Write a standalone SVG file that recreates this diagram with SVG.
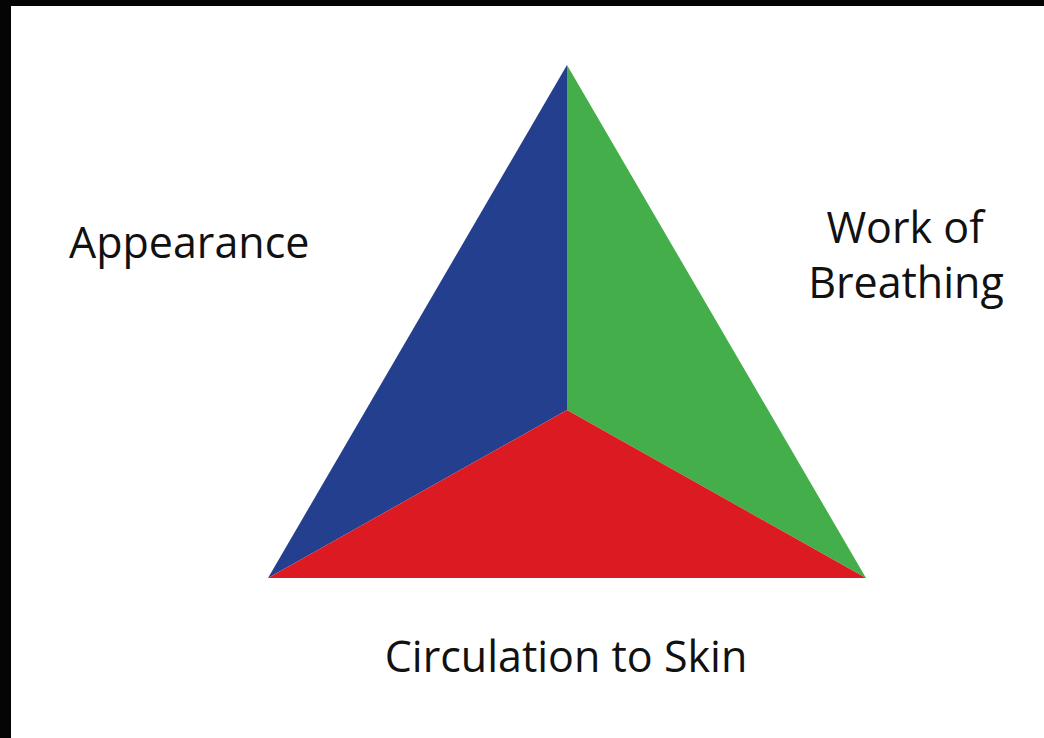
<svg xmlns="http://www.w3.org/2000/svg" width="1044" height="738" viewBox="0 0 1044 738">
<style>
.lbl{font-family:"Open Sans","Noto Sans","Liberation Sans",sans-serif;font-size:43px;fill:#111;}
</style>
<rect x="0" y="0" width="1044" height="738" fill="#050505"/>
<rect x="11" y="6" width="1033" height="732" fill="#ffffff"/>
<g id="triangle">
<polygon id="appearance-face" points="567,65 567,410 268,578" fill="#233f8e"/>
<polygon id="breathing-face" points="567,65 866,578 567,410" fill="#43ae4a"/>
<polygon id="circulation-face" points="268,578 567,410 866,578" fill="#dc1a22"/>
</g>
<g id="connectors"></g>
<g id="label-appearance"><text class="lbl" x="69" y="258">Appearance</text></g>
<g id="label-breathing"><text class="lbl" x="905" y="243" text-anchor="middle">Work of</text><text class="lbl" x="906" y="298" text-anchor="middle">Breathing</text></g>
<g id="label-circulation"><text class="lbl" x="566" y="672" text-anchor="middle">Circulation to Skin</text></g>
</svg>
